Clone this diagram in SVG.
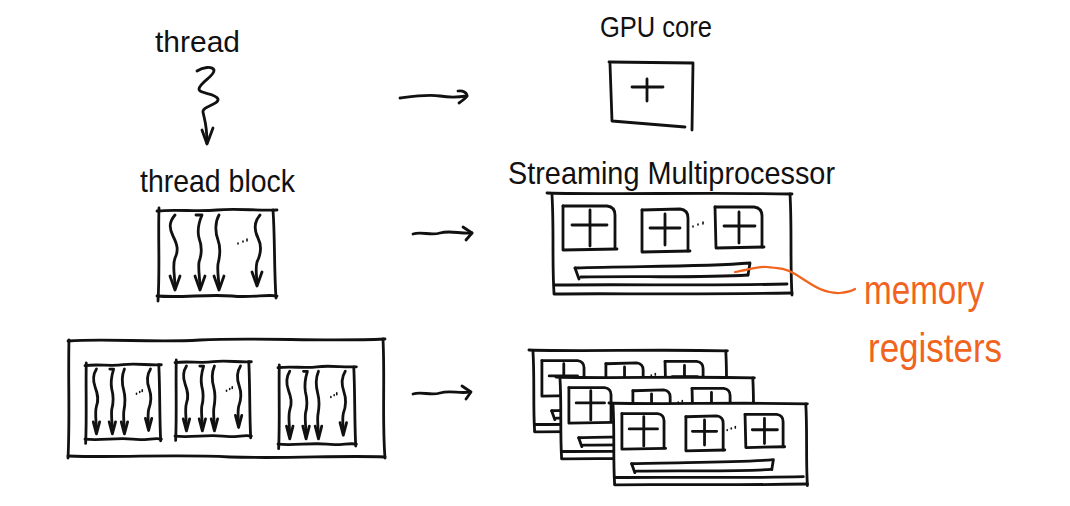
<svg xmlns="http://www.w3.org/2000/svg" xmlns:xlink="http://www.w3.org/1999/xlink" width="1070" height="506" viewBox="0 0 1070 506">
<style>
.s{fill:none;stroke:#111;stroke-width:2.8;stroke-linecap:round;stroke-linejoin:round;vector-effect:non-scaling-stroke}
.bg{fill:#fff;stroke:none}
.t{font-family:"Liberation Sans",Arial,sans-serif;fill:#111}
.o{fill:none;stroke:#f0641e;stroke-width:2.2;stroke-linecap:round}
.ot{font-family:"Liberation Sans",Arial,sans-serif;fill:#f0641e}
.dot{fill:none;stroke:#111;stroke-width:1.6;stroke-linecap:round;vector-effect:non-scaling-stroke}
</style>
<defs>
<g id="blk">
<rect class="bg" x="0" y="0" width="118" height="89"/>
<path class="s" d="M0,3 C20,1 40,4 60,2 C80,0 100,3 120,2"/>
<path class="s" d="M116,2 C118,30 117,60 119,90"/>
<path class="s" d="M0,88 C25,90 50,86 75,88 C95,90 110,86 120,88"/>
<path class="s" d="M2,0 C1,30 3,60 1,93"/>
<path class="s" d="M18,7 C12,14 12,20 16,28 C20,36 22,42 18,50 C15,58 18,66 18,80"/>
<path class="s" d="M13,68 L18,82 L23,68"/>
<path class="s" d="M39,7 L45,7 C42,14 40,22 42,30 C45,38 45,46 42,54 C41,62 43,70 43,80"/>
<path class="s" d="M38,68 L43,82 L48,68"/>
<path class="s" d="M62,7 C58,14 58,24 61,32 C64,40 63,48 61,56 C60,64 62,72 62,80"/>
<path class="s" d="M57,68 L62,82 L67,68"/>
<path class="s" d="M103,7 C97,14 97,22 101,30 C105,38 104,46 100,54 C98,62 100,68 100,76"/>
<path class="s" d="M95,64 L100,78 L105,64"/>
<path class="dot" d="M81,35 l0,1 M86,33 l0,1 M90,31 l0,2"/>
</g>
<g id="smu">
<rect class="bg" x="0" y="0" width="240" height="102"/>
<path class="s" d="M-5,0 C60,2 150,-1 240,1"/>
<path class="s" d="M0,2 C2,35 0,70 2,100"/>
<path class="s" d="M238,1 C240,35 238,70 240,102"/>
<path class="s" d="M3,92 C80,91 160,93 235,91"/>
<path class="s" d="M2,101 C60,100 120,102 240,100"/>
<path class="s" d="M11,13 L55,13 Q63,14 63,22 L63,55"/>
<path class="s" d="M11,13 L11,57 L65,56"/>
<path class="s" d="M20,32 L55,32 M38,17 L38,53"/>
<path class="s" d="M90,17 L128,16 Q136,17 136,25 L136,58"/>
<path class="s" d="M90,17 L90,59 L138,58"/>
<path class="s" d="M98,35 L128,35 M113,21 L113,52"/>
<path class="s" d="M163,14 L202,14 Q210,15 210,23 L210,54"/>
<path class="s" d="M163,14 L164,55 L212,54"/>
<path class="s" d="M172,33 L203,33 M187,19 L187,50"/>
<path class="dot" d="M141,33 l0,1 M146,31 l0,1 M151,29 l0,2"/>
<path class="s" d="M23,75 C80,73 150,74 198,70 L196,82"/>
<path class="s" d="M23,75 L27,86 M29,84 C90,83 150,85 196,82"/>
</g>
</defs>

<g id="n-thread">
<text class="t" x="155" y="52" font-size="29" textLength="85" lengthAdjust="spacingAndGlyphs">thread</text>
<path class="s" d="M197,71 C203,67 212,66 214,70 C215,76 200,82 199,89 C199,94 216,93 218,99 C219,105 202,106 203,112 C204,118 207,124 207,143"/>
<path class="s" d="M202,130 L207,144 L213,128"/>
</g>

<g id="n-thread-block">
<text class="t" x="140" y="192" font-size="32" textLength="155" lengthAdjust="spacingAndGlyphs">thread block</text>
<use xlink:href="#blk" transform="translate(157,208)"/>
</g>

<g id="n-grid">
<rect class="bg" x="68" y="340" width="317" height="117"/>
<path class="s" d="M68,341 C110,338 150,343 200,340 C260,337 320,342 385,339"/>
<path class="s" d="M383,339 C385,380 382,420 385,458"/>
<path class="s" d="M68,456 C120,458 170,454 230,457 C290,459 340,455 385,457"/>
<path class="s" d="M69,340 C68,380 70,420 68,458"/>
<use xlink:href="#blk" transform="translate(85,363) scale(0.636,0.865)"/>
<use xlink:href="#blk" transform="translate(175,360) scale(0.636,0.865)"/>
<use xlink:href="#blk" transform="translate(278,365) scale(0.653,0.9)"/>
</g>

<g id="n-gpu-core">
<text class="t" x="600" y="37" font-size="29" textLength="112" lengthAdjust="spacingAndGlyphs">GPU core</text>
<path class="s" d="M609,62 L693,63 L692,130"/>
<path class="s" d="M610,64 L612,121 L685,127"/>
<path class="s" d="M632,87 L663,87 M647,79 L647,101"/>
</g>

<g id="n-sm">
<use xlink:href="#smu" transform="translate(552,193)"/>
<text class="t" x="508" y="184" font-size="32" textLength="327" lengthAdjust="spacingAndGlyphs">Streaming Multiprocessor</text>
</g>

<g id="n-sm-stack">
<use xlink:href="#smu" transform="translate(533,350) scale(0.81)"/>
<use xlink:href="#smu" transform="translate(560,377) scale(0.81)"/>
<use xlink:href="#smu" transform="translate(613,403) scale(0.81)"/>
</g>

<g id="n-memory">
<text class="ot" x="864" y="304" font-size="40" textLength="120" lengthAdjust="spacingAndGlyphs">memory</text>
<text class="ot" x="868" y="362" font-size="40" textLength="134" lengthAdjust="spacingAndGlyphs">registers</text>
</g>

<g id="connectors">
<path class="s" d="M400,98 C415,96 428,94 440,96 C452,98 460,97 467,96"/>
<path class="s" d="M458,91 C463,90 467,93 467,96 C465,99 462,101 459,103"/>
<path class="s" d="M413,234 C422,231 430,236 440,233 C450,230 460,234 472,233"/>
<path class="s" d="M463,227 L472,233 L466,240"/>
<path class="s" d="M413,394 C422,391 430,396 440,393 C450,390 460,394 470,392"/>
<path class="s" d="M462,386 L471,392 L466,399"/>
<path class="o" d="M735,272 C748,270 758,266 767,267 C778,268 785,268 795,274 C810,283 822,294 840,293 C848,292 852,291 855,289"/>
</g>
</svg>
